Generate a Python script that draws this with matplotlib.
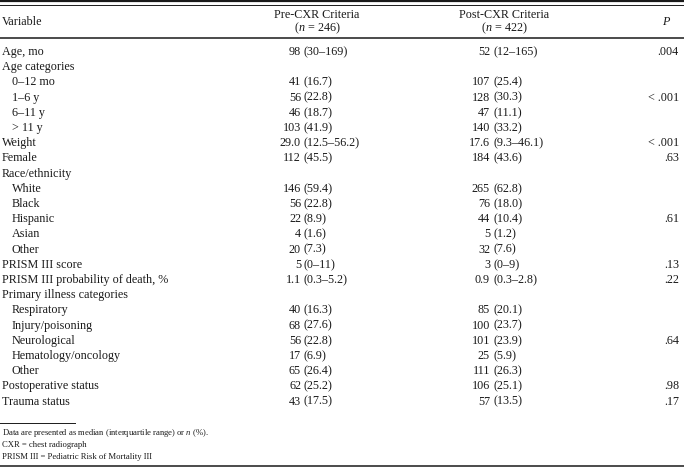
import matplotlib.pyplot as plt

plt.rcParams['font.family'] = ['Liberation Serif', 'DejaVu Serif']
plt.rcParams['mathtext.fontset'] = 'custom'
plt.rcParams['mathtext.rm'] = 'Liberation Serif'
plt.rcParams['mathtext.it'] = 'Liberation Serif:italic'

variables = ["Age, mo", "Age categories", "0–12 mo", "1–6 y", "6–11 y", "> 11 y",
             "Weight", "Female", "Race/ethnicity", "White", "Black", "Hispanic",
             "Asian", "Other", "PRISM III score", "PRISM III probability of death, %",
             "Primary illness categories", "Respiratory", "Injury/poisoning",
             "Neurological", "Hematology/oncology", "Other", "Postoperative status",
             "Trauma status"]
is_sub = [False, False, True, True, True, True,
          False, False, False, True, True, True,
          True, True, False, False,
          False, True, True,
          True, True, True, False,
          False]
pre_cxr = ["98 (30–169)", "", "41 (16.7)", "56 (22.8)", "46 (18.7)", "103 (41.9)",
           "29.0 (12.5–56.2)", "112 (45.5)", "", "146 (59.4)", "56 (22.8)", "22 (8.9)",
           "4 (1.6)", "20 (7.3)", "5 (0–11)", "1.1 (0.3–5.2)",
           "", "40 (16.3)", "68 (27.6)",
           "56 (22.8)", "17 (6.9)", "65 (26.4)", "62 (25.2)",
           "43 (17.5)"]
post_cxr = ["52 (12–165)", "", "107 (25.4)", "128 (30.3)", "47 (11.1)", "140 (33.2)",
            "17.6 (9.3–46.1)", "184 (43.6)", "", "265 (62.8)", "76 (18.0)", "44 (10.4)",
            "5 (1.2)", "32 (7.6)", "3 (0–9)", "0.9 (0.3–2.8)",
            "", "85 (20.1)", "100 (23.7)",
            "101 (23.9)", "25 (5.9)", "111 (26.3)", "106 (25.1)",
            "57 (13.5)"]
p_values = [".004", "", "", "< .001", "", "",
            "< .001", ".63", "", "", "", ".61",
            "", "", ".13", ".22",
            "", "", "",
            ".64", "", "", ".98",
            ".17"]
headers = ["Pre-CXR Criteria", "Post-CXR Criteria"]
group_n = [246, 422]
footnotes = ["Data are presented as median (interquartile range) or $\\it{n}$ (%).",
             "CXR = chest radiograph",
             "PRISM III = Pediatric Risk of Mortality III"]

W, H = 684, 469
fig = plt.figure(figsize=(W / 100, H / 100), dpi=100)
ax = fig.add_axes([0, 0, 1, 1])
ax.set_xlim(0, W)
ax.set_ylim(H, 0)
ax.axis('off')

ink = '#1a1a1a'
fs = 8.7

# rules
ax.plot([0, W], [1, 1], color=ink, lw=1.6)
ax.plot([0, W], [4.8, 4.8], color=ink, lw=0.7)
ax.plot([0, W], [38.5, 38.5], color=ink, lw=1.1)
ax.plot([0, 75], [423.5, 423.5], color=ink, lw=0.7)
ax.plot([0, W], [466.5, 466.5], color=ink, lw=1.1)

# header
ax.text(2, 22, "Variable", fontsize=fs, color=ink, va='center')
for cx, h, n in zip([317, 504], headers, group_n):
    ax.text(cx, 15, h, fontsize=fs, color=ink, va='center', ha='center')
    ax.text(cx, 28.5, "($\\it{n}$ = %d)" % n, fontsize=fs, color=ink,
            va='center', ha='center')
ax.text(666, 22, "P", fontsize=fs, color=ink, va='center', ha='center',
        fontstyle='italic')

# body
y0, dy = 52, 15.2
for i, (lab, sub, a, b, p) in enumerate(zip(variables, is_sub, pre_cxr,
                                             post_cxr, p_values)):
    y = y0 + i * dy
    ax.text(12 if sub else 2, y, lab, fontsize=fs, color=ink, va='center')
    for anchor, cell in [(301, a), (490, b)]:
        if not cell:
            continue
        first, rest = cell.split(" ", 1)
        ax.text(anchor, y, first, fontsize=fs, color=ink, va='center', ha='right')
        ax.text(anchor + 3, y, rest, fontsize=fs, color=ink, va='center', ha='left')
    if p:
        ax.text(679, y, p, fontsize=fs, color=ink, va='center', ha='right')

for k, note in enumerate(footnotes):
    ax.text(2, 433 + k * 12, note, fontsize=6.2, color=ink, va='center')

fig.savefig("out.png", dpi=100)
